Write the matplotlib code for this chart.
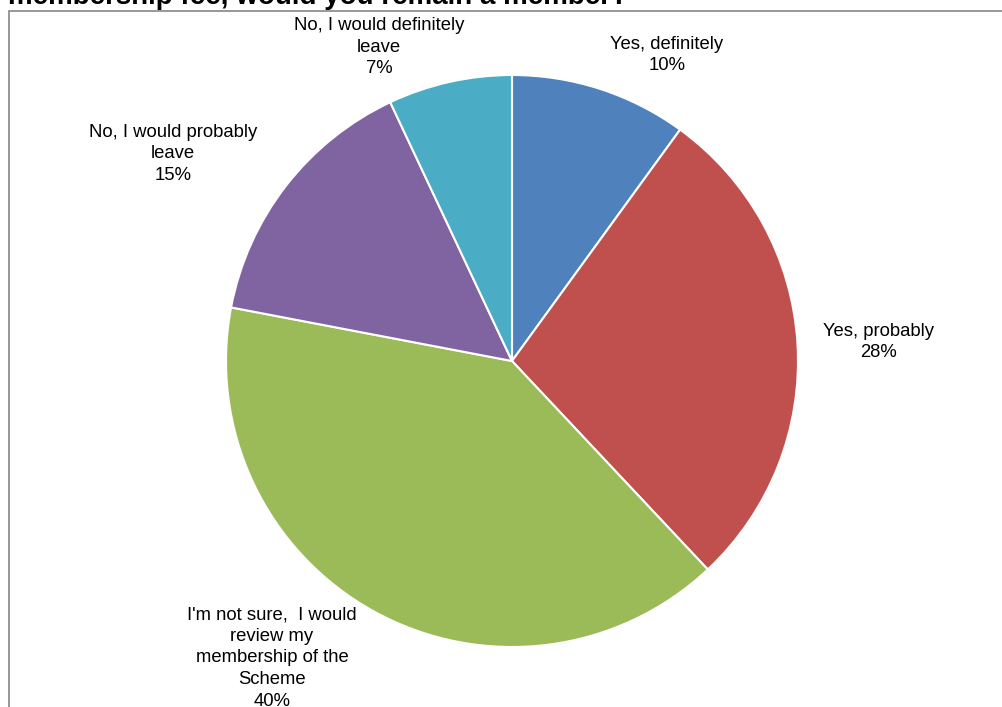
import matplotlib
matplotlib.use("Agg")
import matplotlib.pyplot as plt
from matplotlib.patches import Rectangle

plt.rcParams['font.family'] = ['Liberation Sans', 'DejaVu Sans']

categories = ["Yes, definitely", "Yes, probably",
              "I'm not sure,  I would\nreview my\nmembership of the\nScheme",
              "No, I would probably\nleave", "No, I would definitely\nleave"]
values = [10, 28, 40, 15, 7]
colors = ["#4F81BD", "#C0504D", "#9BBB59", "#8064A2", "#4BACC6"]
title = "membership fee, would you remain a member?"

# label block centres in pixel coords (x, y from top)
label_pos = [(667, 55), (879, 342), (272, 658), (173, 154), (379, 47)]

W, H = 1003, 707
fig = plt.figure(figsize=(W / 100, H / 100), dpi=100)
fig.patch.set_facecolor("white")
ax = fig.add_axes([0, 0, 1, 1])

ax.pie(values, colors=colors, startangle=90, counterclock=False,
       center=(512, H - 361), radius=286,
       wedgeprops=dict(edgecolor="white", linewidth=1.5))

ax.set_xlim(0, W)
ax.set_ylim(0, H)
ax.set_aspect("equal")
ax.axis("off")

# chart-area border (extends past right/bottom of image)
ax.add_patch(Rectangle((9, -50), W + 100, H - 11 + 50, fill=False,
                       edgecolor="#868686", linewidth=1.2, zorder=0))

for cat, v, (x, y) in zip(categories, values, label_pos):
    ax.text(x, H - y, f"{cat}\n{v}%", ha="center", va="center",
            fontsize=13.3, linespacing=1.36, color="black")

fig.text(8 / W, 1 - 4 / H, title, ha="left", va="baseline",
         fontsize=20, fontweight="bold", color="black")

fig.savefig("out.png", dpi=100)
